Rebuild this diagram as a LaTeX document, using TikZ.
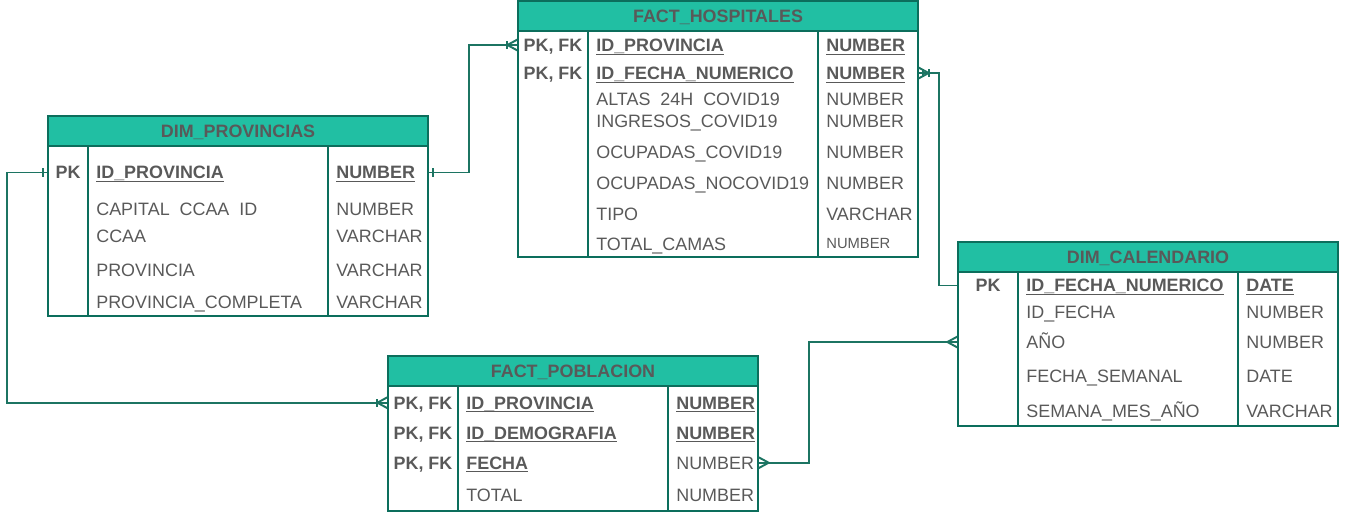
\documentclass[tikz,border=0pt]{standalone}
\usepackage{fontspec}
\setmainfont{Liberation Sans}
\usetikzlibrary{fit,decorations.markings}

\definecolor{hdrfill}{RGB}{33,191,163}
\definecolor{tblline}{RGB}{12,110,92}
\definecolor{txtgray}{RGB}{89,89,89}
\definecolor{relline}{RGB}{28,116,98}

\newcommand\pkey[1]{\textbf{\underline{\smash{#1}}}}

\tikzset{
  tbl/.style={draw=tblline, line width=0.7pt, inner sep=0pt},
  hdr/.style={tbl, fill=hdrfill},
  fld/.style={anchor=west, inner sep=0pt, text=txtgray, font=\fontsize{10.2pt}{12pt}\selectfont, text height=7.3pt, text depth=0pt},
  keycol/.style={fld, anchor=center, font=\bfseries\fontsize{10.2pt}{12pt}\selectfont},
  title/.style={keycol},
  rel/.style={draw=relline, line width=1.1pt},
  relmark/.style={draw=relline, line width=1.1pt},
  onestart/.style={postaction={decorate, decoration={markings, mark=at position 2.5pt with {\draw[relmark] (0,-2.3pt) -- (0,2.3pt);}}}},
  crowstart/.style={postaction={decorate, decoration={markings, mark=at position 5.7pt with {\draw[relmark] (-5.7pt,3.1pt) -- (0,0) -- (-5.7pt,-3.1pt);}}}},
  crowend/.style={postaction={decorate, decoration={markings, mark=at position -5.7pt with {\draw[relmark] (5.7pt,3.1pt) -- (0,0) -- (5.7pt,-3.1pt);}}}},
  onemanystart/.style={crowstart, postaction={decorate, decoration={markings, mark=at position 5.7pt with {\draw[relmark] (0,-2.3pt) -- (0,2.3pt);}}}},
  onemanyend/.style={crowend, postaction={decorate, decoration={markings, mark=at position -5.7pt with {\draw[relmark] (0,-2.3pt) -- (0,2.3pt);}}}}
}

\begin{document}
\begin{tikzpicture}[x=0.02cm, y=-0.02cm]
\useasboundingbox (0,0) rectangle (1351,512);

% FACT_HOSPITALES
\node[tbl, fit={(518,1) (918,257)}] (hosp) {};
\node[hdr, fit={(518,1) (918,31)}] (hosp-h) {};
\node[title] (hosp-title) at (hosp-h) {FACT\_HOSPITALES};
\draw[tblline, line width=0.7pt] (588,31) -- (588,257);
\draw[tblline, line width=0.7pt] (818,31) -- (818,257);
\node[keycol] (hosp-k1) at (553,45) {PK, FK};
\node[keycol] (hosp-k2) at (553,73) {PK, FK};
\node[fld] (hosp-n1) at (596,45) {\pkey{ID\_PROVINCIA}};
\node[fld] (hosp-n2) at (596,73) {\pkey{ID\_FECHA\_NUMERICO}};
\node[fld] (hosp-n3) at (596,99.5) {ALTAS\hphantom{\_}24H\hphantom{\_}COVID19};
\node[fld] (hosp-n4) at (596,120.7) {INGRESOS\_COVID19};
\node[fld] (hosp-n5) at (596,152) {OCUPADAS\_COVID19};
\node[fld] (hosp-n6) at (596,183.3) {OCUPADAS\_NOCOVID19};
\node[fld] (hosp-n7) at (596,214) {TIPO};
\node[fld] (hosp-n8) at (596,244) {TOTAL\_CAMAS};
\node[fld] (hosp-t1) at (826,45) {\pkey{NUMBER}};
\node[fld] (hosp-t2) at (826,73) {\pkey{NUMBER}};
\node[fld] (hosp-t3) at (826,99.5) {NUMBER};
\node[fld] (hosp-t4) at (826,120.7) {NUMBER};
\node[fld] (hosp-t5) at (826,152) {NUMBER};
\node[fld] (hosp-t6) at (826,183.3) {NUMBER};
\node[fld] (hosp-t7) at (826,214) {VARCHAR};
\node[fld, font=\fontsize{8.4pt}{10pt}\selectfont, text height=6pt] (hosp-t8) at (826,243.5) {NUMBER};

% DIM_PROVINCIAS
\node[tbl, fit={(48,116) (428,316)}] (prov) {};
\node[hdr, fit={(48,116) (428,146)}] (prov-h) {};
\node[title] (prov-title) at (prov-h) {DIM\_PROVINCIAS};
\draw[tblline, line width=0.7pt] (88,146) -- (88,316);
\draw[tblline, line width=0.7pt] (328,146) -- (328,316);
\node[keycol] (prov-k1) at (68,172.5) {PK};
\node[fld] (prov-n1) at (96,172.5) {\pkey{ID\_PROVINCIA}};
\node[fld] (prov-n2) at (96,209.5) {CAPITAL\hphantom{\_}CCAA\hphantom{\_}ID};
\node[fld] (prov-n3) at (96,236) {CCAA};
\node[fld] (prov-n4) at (96,270.5) {PROVINCIA};
\node[fld] (prov-n5) at (96,302.5) {PROVINCIA\_COMPLETA};
\node[fld] (prov-t1) at (336,172.5) {\pkey{NUMBER}};
\node[fld] (prov-t2) at (336,209.5) {NUMBER};
\node[fld] (prov-t3) at (336,236) {VARCHAR};
\node[fld] (prov-t4) at (336,270.5) {VARCHAR};
\node[fld] (prov-t5) at (336,302.5) {VARCHAR};

% FACT_POBLACION
\node[tbl, fit={(388,356) (758,511)}] (pobl) {};
\node[hdr, fit={(388,356) (758,386)}] (pobl-h) {};
\node[title] (pobl-title) at (pobl-h) {FACT\_POBLACION};
\draw[tblline, line width=0.7pt] (458,386) -- (458,511);
\draw[tblline, line width=0.7pt] (668,386) -- (668,511);
\node[keycol] (pobl-k1) at (423,402.7) {PK, FK};
\node[keycol] (pobl-k2) at (423,432.7) {PK, FK};
\node[keycol] (pobl-k3) at (423,462.7) {PK, FK};
\node[fld] (pobl-n1) at (466,402.7) {\pkey{ID\_PROVINCIA}};
\node[fld] (pobl-n2) at (466,432.7) {\pkey{ID\_DEMOGRAFIA}};
\node[fld] (pobl-n3) at (466,462.7) {\pkey{FECHA}};
\node[fld] (pobl-n4) at (466,495) {TOTAL};
\node[fld] (pobl-t1) at (676,402.7) {\pkey{NUMBER}};
\node[fld] (pobl-t2) at (676,432.7) {\pkey{NUMBER}};
\node[fld] (pobl-t3) at (676,462.7) {NUMBER};
\node[fld] (pobl-t4) at (676,495) {NUMBER};

% DIM_CALENDARIO
\node[tbl, fit={(958,242) (1338,426)}] (cal) {};
\node[hdr, fit={(958,242) (1338,272)}] (cal-h) {};
\node[title] (cal-title) at (cal-h) {DIM\_CALENDARIO};
\draw[tblline, line width=0.7pt] (1018,272) -- (1018,426);
\draw[tblline, line width=0.7pt] (1238,272) -- (1238,426);
\node[keycol] (cal-k1) at (988,285.5) {PK};
\node[fld] (cal-n1) at (1026,285.5) {\pkey{ID\_FECHA\_NUMERICO}};
\node[fld] (cal-n2) at (1026,312) {ID\_FECHA};
\node[fld] (cal-n3) at (1026,342) {AÑO};
\node[fld] (cal-n4) at (1026,375.7) {FECHA\_SEMANAL};
\node[fld] (cal-n5) at (1026,410.7) {SEMANA\_MES\_AÑO};
\node[fld] (cal-t1) at (1246,285.5) {\pkey{DATE}};
\node[fld] (cal-t2) at (1246,312) {NUMBER};
\node[fld] (cal-t3) at (1246,342) {NUMBER};
\node[fld] (cal-t4) at (1246,375.7) {DATE};
\node[fld] (cal-t5) at (1246,410.7) {VARCHAR};

% relations
\draw[rel, onestart, onemanyend] (prov.east |- prov-n1) -- ++(40,0) |- (hosp.west |- hosp-n1); % provincias - hospitales
\draw[rel, onestart, onemanyend] (prov.west |- prov-n1) -- ++(-40,0) |- (pobl.west |- pobl-n1); % provincias - poblacion
\draw[rel, onemanystart, onestart] (hosp.east |- hosp-n2) -- ++(20,0) |- (cal.west |- cal-n1); % hospitales - calendario
\draw[rel, crowstart, crowend] (pobl.east |- pobl-n3) -- ++(50,0) |- (cal.west |- cal-n3); % poblacion - calendario

\end{tikzpicture}
\end{document}
